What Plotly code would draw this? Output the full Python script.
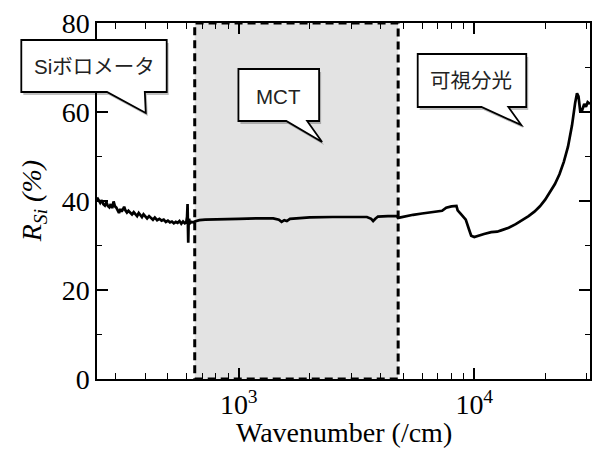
import math
import plotly.graph_objects as go

# ---- data ----
wavenumber = [250, 254, 258, 262, 266, 270, 274, 278, 282, 286, 290, 294, 298, 302, 306, 310, 314, 318, 322,
              326, 330, 335, 340, 346, 352, 358, 364, 370, 376, 382, 388, 394, 400, 408, 416, 424, 432, 440,
              450, 460, 470, 480, 490, 500, 510, 520, 530, 540, 550, 560, 570, 580, 590, 598, 603, 606, 608,
              610, 612, 615, 620, 630, 640,
              650, 680, 720, 800, 900, 1000, 1200, 1400, 1480, 1520, 1560, 1600, 1650, 1800, 2000, 2500,
              3000, 3500, 3650, 3720, 3800, 3900, 4300, 4700,
              4750, 5000, 5500, 6000, 6500, 7000, 7300, 7600, 8000, 8400, 8500, 8800, 9200, 9500, 9700,
              10000, 10500, 11000, 11800, 12500, 13000, 14000, 15000, 16000, 17000, 18000, 19000, 20000,
              21000, 22000, 23000, 24000, 25000, 26000, 26800, 27300, 27700, 28200, 28700, 29300, 29800,
              30300, 31000]
r_si = [40.8, 40.1, 39.6, 40.2, 39.3, 39.0, 39.7, 38.9, 38.6, 39.3, 38.4, 39.9, 38.8, 38.5, 37.9, 37.3, 38.2,
        37.6, 38.1, 38.7, 37.9, 37.4, 37.8, 37.3, 37.0, 37.5, 36.9, 36.6, 37.3, 36.8, 36.4, 37.0, 36.7, 36.1,
        36.6, 36.2, 35.8, 36.3, 35.7, 36.0, 35.6, 35.8, 35.3, 35.6, 35.2, 35.4, 35.0, 35.3, 35.1, 35.5, 34.9,
        35.4, 35.0, 35.2, 36.4, 39.3, 33.0, 30.6, 34.5, 36.0, 35.0, 35.3, 35.2,
        35.4, 35.7, 35.8, 35.9, 36.0, 36.0, 36.1, 36.1, 35.8, 35.3, 35.7, 35.5, 36.0, 36.2, 36.3, 36.4,
        36.4, 36.4, 36.0, 35.5, 36.0, 36.5, 36.6, 36.6,
        36.2, 36.5, 36.9, 37.2, 37.4, 37.6, 37.8, 38.5, 38.8, 38.9, 37.9, 37.0, 35.8, 33.6, 32.2,
        31.9, 32.3, 32.6, 33.0, 33.1, 33.4, 34.0, 34.8, 35.7, 36.6, 37.6, 38.8, 40.3,
        42.0, 43.8, 46.0, 48.8, 52.2, 57.0, 62.0, 64.2, 63.5, 60.0, 60.4, 61.8, 61.2,
        62.2, 61.8]

mct_range = [650, 4750]
x_range = [250, 31000]
y_range = [0, 80]
y_ticks = [0, 20, 40, 60, 80]
x_ticks = [1000, 10000]
x_ticktext = ["10<sup>3</sup>", "10<sup>4</sup>"]
callout_labels = ["Siボロメータ", "MCT", "可視分光"]

W, H = 594, 450
L, R, T, B = 97, 2, 23, 71
PW, PH = W - L - R, H - T - B


def fx(p):
    return (p - L) / PW


def fy(p):
    return (H - B - p) / PH


def bubble_path(x0, y0, x1, y1, b0, tip, b1, dx=0, dy=0):
    pts = [(x0, y0), (x1, y0), (x1, y1), (b1, y1), tip, (b0, y1), (x0, y1)]
    s = ""
    for i, (a, b) in enumerate(pts):
        s += ("M" if i == 0 else "L") + f"{fx(a + dx):.5f},{fy(b + dy):.5f} "
    return s + "Z"


bubbles = [
    dict(box=(21, 40, 167, 92), b0=107, tip=(146, 113), b1=145, text=(94, 67)),
    dict(box=(239, 69, 320, 121), b0=287, tip=(323, 142), b1=308, text=(279, 96)),
    dict(box=(419, 54, 528, 107), b0=483, tip=(523, 125), b1=510, text=(473, 81)),
]

fig = go.Figure()
fig.add_trace(go.Scatter(x=wavenumber, y=r_si, mode="lines",
                         line=dict(color="black", width=2.7), showlegend=False))
# invisible copy bound to the mirrored (top/right) axes so their ticks are drawn
fig.add_trace(go.Scatter(x=wavenumber, y=r_si, mode="lines", xaxis="x2", yaxis="y2",
                         line=dict(color="rgba(0,0,0,0)", width=0), showlegend=False, hoverinfo="skip"))

shapes = [dict(type="rect", xref="x", yref="y", x0=mct_range[0], x1=mct_range[1],
               y0=y_range[0], y1=y_range[1], fillcolor="#e3e3e3",
               line=dict(color="black", width=3, dash="8px,5px"), layer="below")]
annotations = []
for bb, lab in zip(bubbles, callout_labels):
    x0, y0, x1, y1 = bb["box"]
    shapes.append(dict(type="path", xref="paper", yref="paper",
                       path=bubble_path(x0, y0, x1, y1, bb["b0"], bb["tip"], bb["b1"], 2, 3),
                       fillcolor="rgba(0,0,0,0.25)", line=dict(width=0), layer="above"))
    shapes.append(dict(type="path", xref="paper", yref="paper",
                       path=bubble_path(x0, y0, x1, y1, bb["b0"], bb["tip"], bb["b1"]),
                       fillcolor="white", line=dict(color="black", width=1.8), layer="above"))
    annotations.append(dict(xref="paper", yref="paper", x=fx(bb["text"][0]), y=fy(bb["text"][1]),
                            text=lab, showarrow=False, xanchor="center", yanchor="middle",
                            font=dict(family="Liberation Sans, Noto Sans CJK JP", size=20.5, color="#222")))

serif = "Liberation Serif, Times New Roman, serif"
annotations.append(dict(xref="paper", yref="paper", x=fx(33), y=0.5, textangle=-90,
                        text="<i>R</i><sub><i>Si</i></sub><i> (%)</i>", showarrow=False,
                        xanchor="center", yanchor="middle", font=dict(family=serif, size=28, color="black")))
annotations.append(dict(xref="paper", yref="paper", x=0.5, y=fy(432),
                        text="Wavenumber (/cm)", showarrow=False,
                        xanchor="center", yanchor="middle", font=dict(family=serif, size=28, color="black")))

minor_x = [m * 10 ** e for e in (2, 3, 4) for m in range(2, 10) if 250 <= m * 10 ** e <= 31000]
xr = [math.log10(x_range[0]), math.log10(x_range[1])]

xcommon = dict(type="log", range=xr, tickmode="array", tickvals=x_ticks,
               ticks="inside", ticklen=11, tickwidth=1.5, tickcolor="black",
               showgrid=False, zeroline=False,
               minor=dict(tickmode="array", tickvals=minor_x, ticks="inside", ticklen=6,
                          tickwidth=1.2, tickcolor="black", showgrid=False))
ycommon = dict(range=y_range, tickmode="array", tickvals=y_ticks,
               ticks="inside", ticklen=11, tickwidth=1.5, tickcolor="black",
               showgrid=False, zeroline=False,
               minor=dict(dtick=10, ticks="inside", ticklen=5, tickwidth=1.2,
                          tickcolor="black", showgrid=False))

fig.update_layout(
    width=W, height=H, margin=dict(l=L, r=R, t=T, b=B),
    paper_bgcolor="white", plot_bgcolor="white",
    shapes=shapes, annotations=annotations,
    xaxis=dict(**xcommon, ticktext=x_ticktext,
               showline=True, linecolor="black", linewidth=1.5, mirror=True,
               tickfont=dict(family=serif, size=28, color="black")),
    yaxis=dict(**ycommon,
               showline=True, linecolor="black", linewidth=1.5, mirror=True,
               tickfont=dict(family=serif, size=28, color="black")),
    xaxis2=dict(**xcommon, overlaying="x", side="top", showticklabels=False, showline=False),
    yaxis2=dict(**ycommon, overlaying="y", side="right", showticklabels=False, showline=False),
)

fig.write_html("out.html", config={"displayModeBar": False},
               post_script="document.body.style.margin='0px';document.body.style.overflow='hidden';")
